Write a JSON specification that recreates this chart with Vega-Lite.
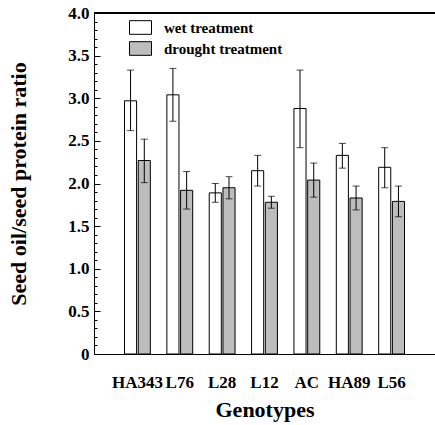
{
  "$schema": "https://vega.github.io/schema/vega-lite/v6.json",
  "width": 341,
  "height": 341,
  "autosize": "none",
  "padding": {"left": 94, "top": 13, "right": 0, "bottom": 71},
  "background": "white",
  "config": {
    "view": {"stroke": null},
    "font": "Liberation Serif"
  },
  "data": {
    "values": [
      {"genotype": "HA343", "treatment": "wet treatment", "mean": 2.97, "lo": 2.62, "hi": 3.33},
      {"genotype": "HA343", "treatment": "drought treatment", "mean": 2.27, "lo": 2.01, "hi": 2.52},
      {"genotype": "L76", "treatment": "wet treatment", "mean": 3.04, "lo": 2.73, "hi": 3.35},
      {"genotype": "L76", "treatment": "drought treatment", "mean": 1.92, "lo": 1.70, "hi": 2.14},
      {"genotype": "L28", "treatment": "wet treatment", "mean": 1.89, "lo": 1.78, "hi": 2.00},
      {"genotype": "L28", "treatment": "drought treatment", "mean": 1.95, "lo": 1.82, "hi": 2.08},
      {"genotype": "L12", "treatment": "wet treatment", "mean": 2.15, "lo": 1.97, "hi": 2.33},
      {"genotype": "L12", "treatment": "drought treatment", "mean": 1.78, "lo": 1.71, "hi": 1.85},
      {"genotype": "AC", "treatment": "wet treatment", "mean": 2.88, "lo": 2.42, "hi": 3.33},
      {"genotype": "AC", "treatment": "drought treatment", "mean": 2.04, "lo": 1.84, "hi": 2.24},
      {"genotype": "HA89", "treatment": "wet treatment", "mean": 2.33, "lo": 2.18, "hi": 2.47},
      {"genotype": "HA89", "treatment": "drought treatment", "mean": 1.83, "lo": 1.69, "hi": 1.97},
      {"genotype": "L56", "treatment": "wet treatment", "mean": 2.19, "lo": 1.95, "hi": 2.42},
      {"genotype": "L56", "treatment": "drought treatment", "mean": 1.79, "lo": 1.61, "hi": 1.97}
    ]
  },
  "resolve": {"axis": {"y": "independent"}},
  "layer": [
    {
      "mark": {"type": "bar", "stroke": "black", "strokeWidth": 1},
      "encoding": {
        "x": {
          "field": "genotype",
          "type": "nominal",
          "sort": ["HA343", "L76", "L28", "L12", "AC", "HA89", "L56"],
          "scale": {"paddingInner": 0.39, "paddingOuter": 0.72},
          "axis": {
            "title": "Genotypes",
            "labelAngle": 0,
            "ticks": false,
            "domainColor": "black",
            "labelFont": "Liberation Serif",
            "labelFontWeight": "bold",
            "labelFontSize": 17,
            "labelColor": "black",
            "labelPadding": 20,
            "titleFont": "Liberation Serif",
            "titleFontWeight": "bold",
            "titleFontSize": 22,
            "titleColor": "black",
            "titlePadding": 9
          }
        },
        "xOffset": {
          "field": "treatment",
          "type": "nominal",
          "sort": ["wet treatment", "drought treatment"],
          "scale": {"paddingInner": 0.12}
        },
        "y": {
          "field": "mean",
          "type": "quantitative",
          "scale": {"domain": [0, 4], "nice": false, "zero": true},
          "axis": {
            "orient": "left",
            "title": "Seed oil/seed protein ratio",
            "values": [0, 0.5, 1, 1.5, 2, 2.5, 3, 3.5, 4],
            "labelExpr": "datum.value == 0 ? '0' : format(datum.value, '.1f')",
            "grid": false,
            "tickSize": -6,
            "tickColor": "black",
            "domainColor": "black",
            "labelFont": "Liberation Serif",
            "labelFontWeight": "bold",
            "labelFontSize": 17,
            "labelColor": "black",
            "labelPadding": 11,
            "titleFont": "Liberation Serif",
            "titleFontWeight": "bold",
            "titleFontSize": 22,
            "titleColor": "black",
            "titlePadding": 37
          }
        },
        "fill": {
          "field": "treatment",
          "type": "nominal",
          "sort": ["wet treatment", "drought treatment"],
          "scale": {"domain": ["wet treatment", "drought treatment"], "range": ["white", "#bdbdbd"]},
          "legend": {
            "title": null,
            "orient": "none",
            "legendX": 35,
            "legendY": 3,
            "symbolType": "M-1,-0.62L1,-0.62L1,0.62L-1,0.62Z",
            "symbolSize": 484,
            "symbolStrokeColor": "black",
            "symbolStrokeWidth": 1,
            "symbolOpacity": 1,
            "labelFont": "Liberation Serif",
            "labelFontWeight": "bold",
            "labelFontSize": 15,
            "labelColor": "black",
            "labelOffset": 12,
            "rowPadding": 0
          }
        }
      }
    },
    {
      "mark": {"type": "rule", "color": "black", "strokeWidth": 1},
      "encoding": {
        "y": {
          "datum": 4,
          "type": "quantitative",
          "axis": {
            "orient": "left",
            "title": null,
            "labels": false,
            "domain": false,
            "grid": false,
            "values": [0.1, 0.2, 0.3, 0.4, 0.6, 0.7, 0.8, 0.9, 1.1, 1.2, 1.3, 1.4, 1.6, 1.7, 1.8, 1.9, 2.1, 2.2, 2.3, 2.4, 2.6, 2.7, 2.8, 2.9, 3.1, 3.2, 3.3, 3.4, 3.6, 3.7, 3.8, 3.9],
            "tickSize": -3,
            "tickColor": "black"
          }
        }
      }
    },
    {
      "mark": {"type": "rule", "color": "black", "strokeWidth": 1},
      "encoding": {
        "x": {"field": "genotype", "type": "nominal", "sort": ["HA343", "L76", "L28", "L12", "AC", "HA89", "L56"]},
        "xOffset": {"field": "treatment", "type": "nominal", "sort": ["wet treatment", "drought treatment"]},
        "y": {"field": "lo", "type": "quantitative", "axis": null},
        "y2": {"field": "hi"}
      }
    },
    {
      "mark": {"type": "tick", "color": "black", "size": 7, "thickness": 1},
      "encoding": {
        "x": {"field": "genotype", "type": "nominal", "sort": ["HA343", "L76", "L28", "L12", "AC", "HA89", "L56"]},
        "xOffset": {"field": "treatment", "type": "nominal", "sort": ["wet treatment", "drought treatment"]},
        "y": {"field": "lo", "type": "quantitative", "axis": null}
      }
    },
    {
      "mark": {"type": "tick", "color": "black", "size": 7, "thickness": 1},
      "encoding": {
        "x": {"field": "genotype", "type": "nominal", "sort": ["HA343", "L76", "L28", "L12", "AC", "HA89", "L56"]},
        "xOffset": {"field": "treatment", "type": "nominal", "sort": ["wet treatment", "drought treatment"]},
        "y": {"field": "hi", "type": "quantitative", "axis": null}
      }
    }
  ]
}
